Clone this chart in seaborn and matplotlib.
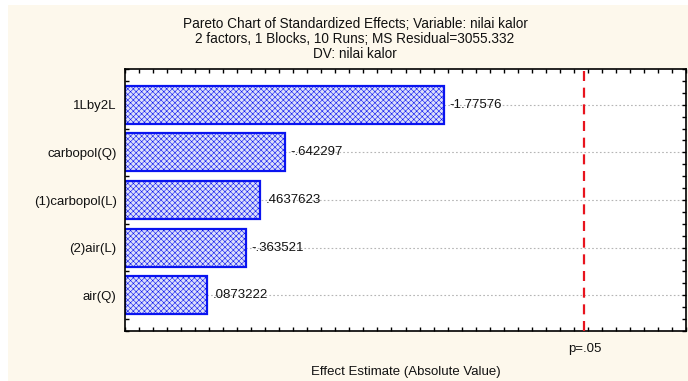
import matplotlib
matplotlib.use("Agg")
import matplotlib.pyplot as plt
from matplotlib.patches import Rectangle
from matplotlib.ticker import MultipleLocator
import seaborn as sns
import pandas as pd

# Standardized effects (t values) for each model term
terms = ["1Lby2L", "carbopol(Q)", "(1)carbopol(L)", "(2)air(L)", "air(Q)"]
effects = [-1.77576, -0.642297, 0.4637623, -0.363521, 0.0873222]
effect_labels = ["-1.77576", "-.642297", ".4637623", "-.363521", ".0873222"]

# Critical t value at p = .05 (4 residual df)
t_crit = 2.776
crit_label = "p=.05"

title_lines = [
    "Pareto Chart of Standardized Effects; Variable: nilai kalor",
    "2 factors, 1 Blocks, 10 Runs; MS Residual=3055.332",
    "DV: nilai kalor",
]
x_label = "Effect Estimate (Absolute Value)"

x_range = (-0.5, 3.5)
y_range = (4.75, -0.75)

df = pd.DataFrame({"term": terms, "abs_effect": [abs(v) for v in effects]})

sns.set_theme(style="white")
plt.rcParams["font.family"] = ["Liberation Sans", "DejaVu Sans"]
plt.rcParams["hatch.color"] = "#5f6cec"
plt.rcParams["hatch.linewidth"] = 0.4

FS = 9.5
TXT = "#111111"

W, H = 688, 381
fig = plt.figure(figsize=(W / 100, H / 100), dpi=100)
fig.patch.set_facecolor("white")
fig.patches.append(Rectangle((8 / W, 0), 1, 1 - 5 / H, transform=fig.transFigure,
                             facecolor="#fdf8ec", edgecolor="none", zorder=-10))

ax = fig.add_axes([125 / W, (H - 331) / H, (686 - 125) / W, (331 - 69) / H])
ax.set_facecolor("white")

# dotted guide lines at each term
for i in range(len(terms)):
    ax.axhline(i, color="#b5b5b5", lw=0.8, ls=(0, (1.5, 2)), zorder=0)

sns.barplot(data=df, x="abs_effect", y="term", orient="h", ax=ax,
            width=0.8, color="#dcdffa", zorder=2)

# bars start at the left edge of the plotting range
for p in ax.patches:
    right = p.get_x() + p.get_width()
    p.set_x(x_range[0])
    p.set_width(right - x_range[0])
    p.set_facecolor("#dcdffa")
    p.set_edgecolor("#0a14f0")
    p.set_linewidth(1.6)
    p.set_hatch("xxxxxx")

for i, (v, lab) in enumerate(zip(df["abs_effect"], effect_labels)):
    ax.annotate(lab, (v, i), xytext=(4, 0), textcoords="offset points",
                ha="left", va="center", fontsize=FS, color=TXT, zorder=4)

ax.axvline(t_crit, color="#e8141e", lw=1.6, ls=(0, (4.5, 3)), zorder=3)

ax.set_xlim(*x_range)
ax.set_ylim(*y_range)

ax.set_xticks([t_crit], [crit_label])
ax.xaxis.set_minor_locator(MultipleLocator(0.1))
ax.yaxis.set_minor_locator(MultipleLocator(0.25))
ax.tick_params(axis="x", which="major", length=0, pad=8.5, labelsize=FS, colors=TXT)
ax.tick_params(axis="x", which="minor", direction="in", length=3, width=1,
               top=True, bottom=True, color="black")
ax.tick_params(axis="y", which="both", direction="in", length=3, width=1,
               left=True, right=True, color="black")
ax.tick_params(axis="y", which="major", pad=6, labelsize=FS, labelcolor=TXT)

ax.set_xlabel(x_label, fontsize=FS, color=TXT, labelpad=8)
ax.set_ylabel("")

for s in ax.spines.values():
    s.set_visible(True)
    s.set_color("black")
    s.set_linewidth(1.2)

fig.text(355 / W, 1 - 17 / H, "\n".join(title_lines), ha="center", va="top",
         fontsize=9.8, color=TXT, linespacing=1.1)

fig.savefig("out.png", dpi=100)
